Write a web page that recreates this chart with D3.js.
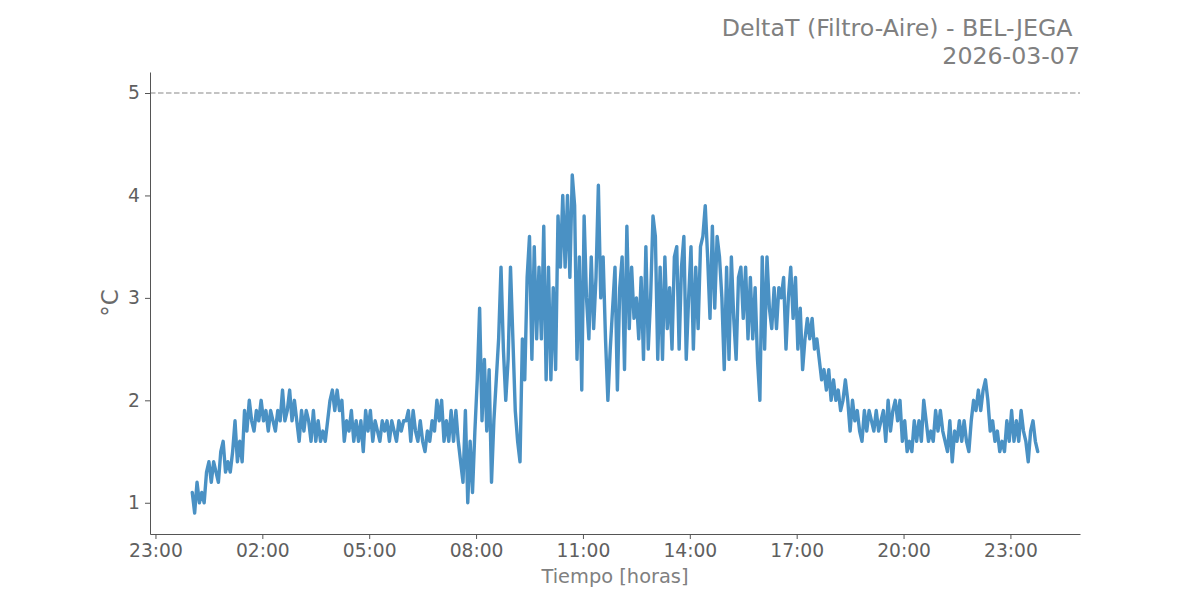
<!DOCTYPE html>
<html>
<head>
<meta charset="utf-8">
<script src="https://cdn.jsdelivr.net/npm/d3@7"></script>
<style>
  html, body { margin: 0; padding: 0; background: #fff; }
  svg { display: block; font-family: "DejaVu Sans", sans-serif; }
</style>
</head>
<body>
<svg id="chart" width="1200" height="600"></svg>
<script>
// ---- data ----
const titleLines = ["DeltaT (Filtro-Aire) - BEL-JEGA\u00a0", "2026-03-07"];
const xLabel = "Tiempo [horas]";
const yLabel = "°C";
const threshold = 5;
const firstSample = "2026-03-07T00:02";
const sampleStepMinutes = 4;
const yTickValues = [1, 2, 3, 4, 5];
const xTickTimes = ["2026-03-06T23:00", "2026-03-07T02:00", "2026-03-07T05:00", "2026-03-07T08:00",
  "2026-03-07T11:00", "2026-03-07T14:00", "2026-03-07T17:00", "2026-03-07T20:00", "2026-03-07T23:00"];
const xTickLabels = ["23:00", "02:00", "05:00", "08:00", "11:00", "14:00", "17:00", "20:00", "23:00"];

// values per hour of the day (one sample every 4 minutes)
const h00 = [1.1,0.9,1.2,1.0,1.1,1.0,1.3,1.4,1.2,1.4,1.3,1.2,1.5,1.6,1.3];
const h01 = [1.4,1.3,1.5,1.8,1.4,1.6,1.4,1.9,1.7,2.0,1.8,1.7,1.9,1.8,2.0];
const h02 = [1.8,1.9,1.7,1.9,1.8,1.7,1.9,1.8,2.1,1.8,1.9,2.1,1.8,2.0,1.8];
const h03 = [1.6,1.9,1.7,1.9,1.8,1.6,1.9,1.6,1.8,1.6,1.7,1.6,1.8,2.0,2.1];
const h04 = [1.9,2.1,1.9,2.0,1.6,1.8,1.7,1.9,1.6,1.8,1.6,1.8,1.5,1.9,1.7];
const h05 = [1.9,1.6,1.8,1.7,1.6,1.8,1.7,1.8,1.6,1.8,1.7,1.6,1.8,1.7,1.8];
const h06 = [1.8,1.9,1.6,1.9,1.7,1.6,1.8,1.6,1.5,1.7,1.6,1.8,1.7,2.0,1.8];
const h07 = [2.0,1.6,1.8,1.6,1.9,1.6,1.9,1.6,1.4,1.2,1.9,1.0,1.6,1.1,1.7];
const h08 = [2.2,2.9,1.8,2.4,1.7,2.3,1.2,1.8,2.2,2.6,3.3,2.5,2.0,2.4,3.3];
const h09 = [2.6,1.9,1.6,1.4,2.6,2.2,3.2,3.6,2.4,3.5,2.6,3.3,2.6,3.7,2.2];
const h10 = [3.3,2.2,3.1,2.3,3.8,3.3,4.0,3.3,4.0,3.2,4.2,3.9,2.4,3.4,2.1];
const h11 = [3.8,3.0,2.6,3.4,2.7,3.2,4.1,3.0,3.4,2.6,2.0,2.5,2.9,3.3,2.1];
const h12 = [3.1,3.4,2.3,3.7,2.7,3.3,2.8,3.0,2.6,3.2,2.4,3.5,2.5,3.0,3.8];
const h13 = [3.6,2.4,3.3,2.4,3.4,2.7,3.1,2.5,3.4,3.5,2.5,3.3,3.6,2.4,3.0];
const h14 = [3.5,2.5,3.3,2.7,3.5,3.6,3.9,3.4,2.8,3.7,2.9,3.6,3.4,3.0,2.3];
const h15 = [3.3,2.4,3.4,2.8,2.4,3.2,3.3,2.8,3.3,2.6,3.2,2.6,3.1,2.4,2.0];
const h16 = [3.4,2.5,3.4,2.9,2.7,3.1,2.7,3.1,3.0,3.2,2.5,3.0,3.3,2.8,3.2];
const h17 = [2.5,2.9,2.3,2.6,2.8,2.6,2.8,2.5,2.6,2.4,2.2,2.3,2.1,2.3,2.0];
const h18 = [2.2,2.0,2.1,1.9,2.0,2.2,2.0,1.7,2.0,1.8,1.9,1.7,1.6,1.9,1.7];
const h19 = [1.9,1.8,1.7,1.9,1.7,1.8,1.9,1.6,2.0,1.7,1.9,2.0,1.8,2.0,1.6];
const h20 = [1.8,1.5,1.6,1.5,1.8,1.6,1.8,1.6,2.0,1.8,1.6,1.7,1.6,1.9,1.7];
const h21 = [1.9,1.7,1.6,1.5,1.8,1.4,1.7,1.6,1.8,1.6,1.8,1.6,1.5,1.8,2.0];
const h22 = [1.9,2.1,1.9,2.1,2.2,2.0,1.7,1.8,1.6,1.7,1.5,1.6,1.5,1.8,1.6];
const h23 = [1.9,1.6,1.8,1.6,1.9,1.7,1.6,1.4,1.7,1.8,1.6,1.5];

// ---- build ----
const parse = d3.timeParse("%Y-%m-%dT%H:%M");
const allValues = [].concat(h00,h01,h02,h03,h04,h05,h06,h07,h08,h09,h10,h11,
  h12,h13,h14,h15,h16,h17,h18,h19,h20,h21,h22,h23);
const t0 = parse(firstSample);
const data = allValues.map((v, i) => ({ t: d3.timeMinute.offset(t0, i * sampleStepMinutes), v }));

const W = 1200, H = 600;
const m = { left: 150, right: 120, top: 72, bottom: 66 };
const svg = d3.select("#chart");

const tExt = d3.extent(data, d => d.t);
const span = tExt[1] - tExt[0];
const x = d3.scaleTime()
  .domain([new Date(+tExt[0] - 0.05 * span), new Date(+tExt[1] + 0.05 * span)])
  .range([m.left, W - m.right]);

const vMin = Math.min(d3.min(data, d => d.v), threshold);
const vMax = Math.max(d3.max(data, d => d.v), threshold);
const vSpan = vMax - vMin;
const y = d3.scaleLinear()
  .domain([vMin - 0.05 * vSpan, vMax + 0.05 * vSpan])
  .range([H - m.bottom, m.top]);

// threshold line
svg.append("line")
  .attr("x1", m.left).attr("x2", W - m.right)
  .attr("y1", y(threshold)).attr("y2", y(threshold))
  .attr("stroke", "#b0b0b0").attr("stroke-width", 1.5)
  .attr("stroke-dasharray", "5.5,2.5");

// data line
const line = d3.line().x(d => x(d.t)).y(d => y(d.v));
svg.append("path")
  .datum(data)
  .attr("d", line)
  .attr("fill", "none")
  .attr("stroke", "#4a91c4")
  .attr("stroke-width", 3.4)
  .attr("stroke-linejoin", "round")
  .attr("stroke-linecap", "round");

// axes
const xTicks = xTickTimes.map(parse);
const xAxis = d3.axisBottom(x)
  .tickValues(xTicks)
  .tickFormat((d, i) => xTickLabels[i])
  .tickSize(5).tickSizeOuter(0).tickPadding(5);
const gx = svg.append("g")
  .attr("transform", `translate(0,${H - m.bottom})`)
  .call(xAxis);

const yAxis = d3.axisLeft(y)
  .tickValues(yTickValues)
  .tickFormat(d3.format("d"))
  .tickSize(5).tickSizeOuter(0).tickPadding(5);
const gy = svg.append("g")
  .attr("transform", `translate(${m.left},0)`)
  .call(yAxis);

[gx, gy].forEach(g => {
  g.select(".domain").attr("stroke", "#555").attr("stroke-width", 1);
  g.selectAll(".tick line").attr("stroke", "#555").attr("stroke-width", 1);
  g.selectAll(".tick text")
    .attr("fill", "#5f5f5f")
    .style("font-family", "'DejaVu Sans', sans-serif")
    .style("font-size", "18.7px");
});

// axis labels
svg.append("text")
  .attr("x", (m.left + W - m.right) / 2)
  .attr("y", 583)
  .attr("text-anchor", "middle")
  .attr("fill", "#808080")
  .style("font-size", "19.4px")
  .text(xLabel);

svg.append("text")
  .attr("transform", `translate(118,${(m.top + H - m.bottom) / 2}) rotate(-90)`)
  .attr("text-anchor", "middle")
  .attr("fill", "#6a6a6a")
  .style("font-size", "23px")
  .text(yLabel);

// title
const title = svg.append("text")
  .attr("text-anchor", "end")
  .attr("fill", "#808080")
  .style("font-size", "23.7px");
titleLines.forEach((s, i) => {
  title.append("tspan")
    .attr("x", W - m.right)
    .attr("y", 36 + i * 28)
    .text(s);
});
</script>
</body>
</html>
